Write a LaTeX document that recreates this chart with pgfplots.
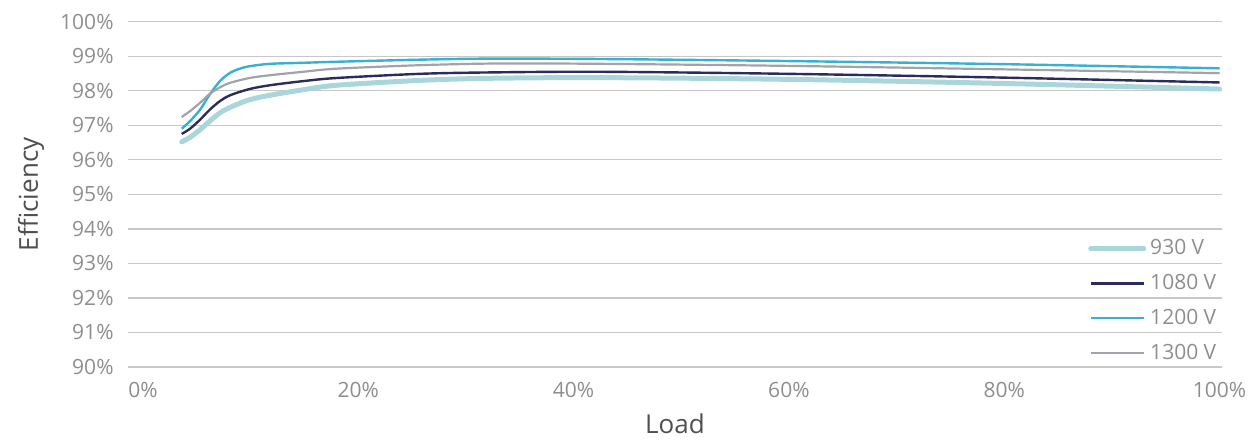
\documentclass[border=0pt]{standalone}
\usepackage{pgfplots}
\pgfplotsset{compat=1.18}
\usepackage{fontspec}
\setmainfont{Open Sans}
\definecolor{c930}{HTML}{A9D6DA}
\definecolor{c1080}{HTML}{2A2C5A}
\definecolor{c1200}{HTML}{38B0D2}
\definecolor{c1300}{HTML}{A2A2AA}
\definecolor{gridc}{HTML}{C8C8C8}
\definecolor{tickc}{HTML}{8E8E8E}
\definecolor{labc}{HTML}{505050}
\begin{document}
\begin{tikzpicture}
\begin{axis}[
  name=ax,
  scale only axis,
  width=547pt, height=172.65pt,
  xmin=-1.39, xmax=100.23,
  ymin=90, ymax=100,
  axis line style={draw=none},
  major tick length=0pt,
  ymajorgrids,
  grid style={gridc, line width=0.65pt},
  xtick={0,20,40,60,80,100},
  xticklabels={0\%,20\%,40\%,60\%,80\%,100\%},
  ytick={90,91,...,100},
  yticklabels={90\%,91\%,92\%,93\%,94\%,95\%,96\%,97\%,98\%,99\%,100\%},
  tick label style={font=\fontsize{10.5}{12}\selectfont, text=tickc},
  yticklabel style={xshift=-3.7pt},
  xticklabel style={yshift=-4pt},
  xlabel={Load},
  ylabel={Efficiency},
  label style={font=\fontsize{13}{15}\selectfont, text=labc},
  xlabel style={at={(axis description cs:0.5,0)}, anchor=base, yshift=-33pt},
  ylabel style={at={(axis description cs:0,0.5)}, anchor=base, yshift=45pt},
  legend style={draw=none, fill=none, at={(axis cs:100.66,89.9)}, anchor=south east,
    font=\fontsize{10.5}{12}\selectfont, text=tickc, row sep=4.25pt,
    /tikz/every even column/.append style={column sep=0pt}},
  legend cell align=left,
  legend image code/.code={\draw[#1] (0pt,0pt) -- (26.5pt,0pt);},
  clip=false,
]
\addplot[c930, line width=2.5pt, smooth, line cap=round] coordinates {
 (3.6,96.52) (4.37,96.65) (5.3,96.87) (6.2,97.12) (7.15,97.36) (8.1,97.52) (9.9,97.74) (11.8,97.87) (14.9,98.03) (18.0,98.16) (25.7,98.30) (32,98.36) (42.5,98.38) (60,98.33) (80,98.21) (100,98.05)};
\addlegendentry{930 V}
\addplot[c1080, line width=1.2pt, smooth] coordinates {
 (3.6,96.75) (4.37,96.90) (5.3,97.16) (6.2,97.45) (7.15,97.70) (8.1,97.87) (9.9,98.05) (11.8,98.16) (14.9,98.28) (18.0,98.37) (25.7,98.49) (32,98.53) (42.5,98.55) (60,98.49) (80,98.38) (100,98.24)};
\addlegendentry{1080 V}
\addplot[c1200, line width=1.2pt, smooth] coordinates {
 (3.6,96.90) (4.37,97.12) (5.3,97.45) (6.2,97.89) (7.15,98.28) (8.1,98.52) (9.0,98.64) (9.9,98.71) (11.8,98.78) (14.9,98.81) (18.0,98.84) (25.7,98.90) (32,98.93) (42.5,98.92) (60,98.86) (80,98.77) (100,98.65)};
\addlegendentry{1200 V}
\addplot[c1300, line width=1.1pt, smooth] coordinates {
 (3.6,97.24) (4.37,97.41) (5.3,97.65) (6.2,97.91) (7.15,98.10) (8.1,98.23) (9.9,98.37) (11.8,98.45) (14.9,98.55) (18.0,98.64) (25.7,98.74) (33,98.79) (42.5,98.78) (60,98.72) (80,98.62) (100,98.51)};
\addlegendentry{1300 V}
\end{axis}
\pgfresetboundingbox
\path (ax.south west) ++(-64pt,-36.5pt) coordinate (bbsw);
\path (ax.north east) ++(13.5pt,10.85pt) coordinate (bbne);
\path[use as bounding box] (bbsw) rectangle (bbne);
\end{tikzpicture}
\end{document}
